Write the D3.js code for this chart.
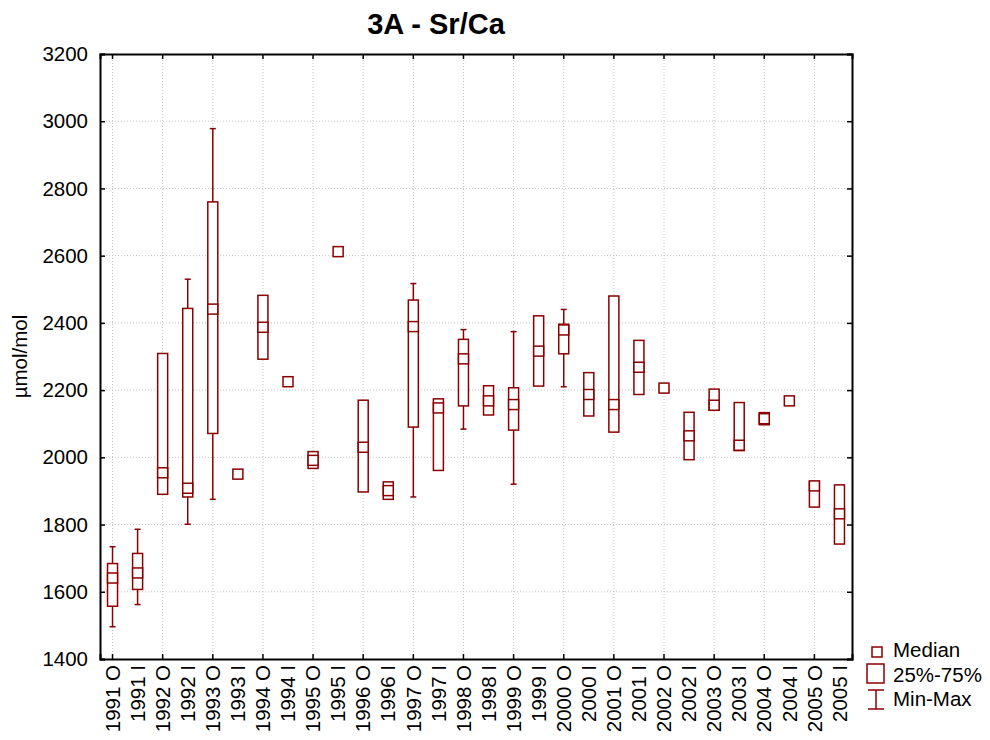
<!DOCTYPE html>
<html>
<head>
<meta charset="utf-8">
<script src="https://cdn.jsdelivr.net/npm/d3@7"></script>
<style>
  body { margin: 0; background: #fff; }
  text { font-family: "Liberation Sans", Arial, sans-serif; fill: #000; }
</style>
</head>
<body>
<svg id="chart" width="990" height="740"></svg>
<script>
// categories (season/year) and box statistics
const categories = [
  "1991 O", "1991 I", "1992 O", "1992 I", "1993 O", "1993 I", "1994 O", "1994 I",
  "1995 O", "1995 I", "1996 O", "1996 I", "1997 O", "1997 I", "1998 O", "1998 I",
  "1999 O", "1999 I", "2000 O", "2000 I", "2001 O", "2001 I", "2002 O", "2002 I",
  "2003 O", "2003 I", "2004 O", "2004 I", "2005 O", "2005 I"
];
const minVals = [1496, 1562, null, 1801, 1875, null, null, null, null, null, null, null, 1882, null, 2084, null,
  1920, null, 2210, null, null, null, null, null, null, null, null, null, null, null];
const q1Vals = [1557, 1607, 1890, 1882, 2071, 1950, 2292, 2225, 1967, 2612, 1897, 1875, 2090, 1961, 2153, 2126,
  2081, 2212, 2308, 2123, 2075, 2187, 2206, 1993, 2140, 2020, 2097, 2168, 1852, 1742];
const medianVals = [1641, 1656, 1954, 1908, 2441, 1950, 2387, 2225, 1991, 2612, 2030, 1901, 2389, 2147, 2293, 2168,
  2157, 2316, 2379, 2187, 2157, 2268, 2206, 2064, 2155, 2036, 2115, 2168, 1915, 1832];
const q3Vals = [1684, 1714, 2309, 2443, 2760, 1950, 2482, 2225, 2017, 2612, 2170, 1927, 2468, 2174, 2351, 2213,
  2207, 2421, 2396, 2252, 2480, 2348, 2206, 2134, 2203, 2163, 2133, 2168, 1928, 1918];
const maxVals = [1734, 1786, null, 2530, 2978, null, null, null, null, null, null, null, 2517, null, 2380, null,
  2374, null, 2440, null, null, null, null, null, null, null, null, null, null, null];
const yTicks = [1400, 1600, 1800, 2000, 2200, 2400, 2600, 2800, 3000, 3200];
const legendLabels = ["Median", "25%-75%", "Min-Max"];

const boxColor = "#8b0000";
const gridColor = "#c4c4c4";

const data = categories.map((c, i) => ({
  cat: c,
  min: minVals[i],
  q1: q1Vals[i],
  median: medianVals[i],
  q3: q3Vals[i],
  max: maxVals[i],
}));

const svg = d3.select("#chart");
const plotLeft = 100, plotRight = 852, plotTop = 54, plotBottom = 659;

const x = d3.scaleBand().domain(categories).range([plotLeft, plotRight]).paddingInner(0).paddingOuter(0);
const cx = (c) => x(c) + x.bandwidth() / 2;
const y = d3.scaleLinear().domain([1400, 3200]).range([plotBottom, plotTop]);

// major categories (O) carry grid lines and ticks
const majorCats = categories.filter((c, i) => i % 2 === 0);

// Grid
const grid = svg.append("g");
grid.selectAll("line.h")
  .data(yTicks.slice(1, -1))
  .join("line")
  .attr("x1", plotLeft).attr("x2", plotRight)
  .attr("y1", (d) => y(d)).attr("y2", (d) => y(d))
  .attr("stroke", gridColor).attr("stroke-dasharray", "1,2");
grid.selectAll("line.v")
  .data(majorCats)
  .join("line")
  .attr("x1", (d) => cx(d)).attr("x2", (d) => cx(d))
  .attr("y1", plotTop).attr("y2", plotBottom)
  .attr("stroke", gridColor).attr("stroke-dasharray", "1,2");

// Axes (ticks point inward)
const yAxisL = d3.axisLeft(y).tickValues(yTicks).tickSize(-5).tickPadding(12).tickFormat(d3.format("d"));
const yAxisR = d3.axisRight(y).tickValues(yTicks).tickSize(-5).tickFormat("");
const xAxisB = d3.axisBottom(x).tickSize(0).tickPadding(6);
const xAxisT = d3.axisTop(x).tickValues(majorCats).tickSize(-5).tickFormat("");
const xTicksB = d3.axisBottom(x).tickValues(majorCats).tickSize(-5).tickFormat("");

const gL = svg.append("g").attr("transform", `translate(${plotLeft},0)`).call(yAxisL);
const gR = svg.append("g").attr("transform", `translate(${plotRight},0)`).call(yAxisR);
const gT = svg.append("g").attr("transform", `translate(0,${plotTop})`).call(xAxisT);
const gBt = svg.append("g").attr("transform", `translate(0,${plotBottom})`).call(xTicksB);
const gB = svg.append("g").attr("transform", `translate(0,${plotBottom})`).call(xAxisB);

[gL, gR, gT, gBt, gB].forEach((g) => {
  g.select(".domain").attr("stroke", "#000").attr("stroke-width", 2);
  g.selectAll(".tick line").attr("stroke", "#000").attr("stroke-width", 1.5);
});
gL.selectAll(".tick text").attr("font-size", 20.5).attr("font-family", "Liberation Sans, Arial, sans-serif");
gB.select(".domain").remove();
gB.selectAll(".tick text")
  .attr("font-size", 20.5)
  .attr("font-family", "Liberation Sans, Arial, sans-serif")
  .attr("text-anchor", "end")
  .attr("dy", "0.35em")
  .attr("transform", "rotate(-90)")
  .attr("x", -6)
  .attr("y", 0);

// Boxes
const boxW = 10, capW = 6, medH = 10;
const boxes = svg.append("g");

boxes.selectAll("line.whisker")
  .data(data.filter((d) => d.min != null))
  .join("line")
  .attr("x1", (d) => cx(d.cat)).attr("x2", (d) => cx(d.cat))
  .attr("y1", (d) => y(d.max)).attr("y2", (d) => y(d.min))
  .attr("stroke", boxColor).attr("stroke-width", 1.5);

boxes.selectAll("line.capTop")
  .data(data.filter((d) => d.max != null))
  .join("line")
  .attr("x1", (d) => cx(d.cat) - capW / 2).attr("x2", (d) => cx(d.cat) + capW / 2)
  .attr("y1", (d) => y(d.max)).attr("y2", (d) => y(d.max))
  .attr("stroke", boxColor).attr("stroke-width", 1.5);

boxes.selectAll("line.capBot")
  .data(data.filter((d) => d.min != null))
  .join("line")
  .attr("x1", (d) => cx(d.cat) - capW / 2).attr("x2", (d) => cx(d.cat) + capW / 2)
  .attr("y1", (d) => y(d.min)).attr("y2", (d) => y(d.min))
  .attr("stroke", boxColor).attr("stroke-width", 1.5);

boxes.selectAll("rect.box")
  .data(data.filter((d) => d.q3 > d.q1))
  .join("rect")
  .attr("x", (d) => cx(d.cat) - boxW / 2)
  .attr("y", (d) => y(d.q3))
  .attr("width", boxW)
  .attr("height", (d) => y(d.q1) - y(d.q3))
  .attr("fill", "#fff")
  .attr("stroke", boxColor).attr("stroke-width", 1.5);

boxes.selectAll("rect.median")
  .data(data)
  .join("rect")
  .attr("x", (d) => cx(d.cat) - boxW / 2)
  .attr("y", (d) => y(d.median) - medH / 2)
  .attr("width", boxW)
  .attr("height", medH)
  .attr("fill", "#fff")
  .attr("stroke", boxColor).attr("stroke-width", 1.5);

// Title and y label
svg.append("text")
  .attr("x", 436).attr("y", 34)
  .attr("text-anchor", "middle")
  .attr("font-size", 29).attr("font-weight", "bold")
  .text("3A - Sr/Ca");

svg.append("text")
  .attr("transform", `translate(27,${(plotTop + plotBottom) / 2}) rotate(-90)`)
  .attr("text-anchor", "middle")
  .attr("font-size", 20.5)
  .text("µmol/mol");

// Legend
const lg = svg.append("g");
lg.append("rect").attr("x", 872).attr("y", 647).attr("width", 10).attr("height", 10)
  .attr("fill", "none").attr("stroke", boxColor).attr("stroke-width", 1.5);
lg.append("rect").attr("x", 867).attr("y", 664).attr("width", 17).attr("height", 19)
  .attr("fill", "none").attr("stroke", boxColor).attr("stroke-width", 1.5);
lg.append("line").attr("x1", 876).attr("x2", 876).attr("y1", 690).attr("y2", 709)
  .attr("stroke", boxColor).attr("stroke-width", 1.5);
lg.append("line").attr("x1", 868).attr("x2", 884).attr("y1", 690).attr("y2", 690)
  .attr("stroke", boxColor).attr("stroke-width", 1.5);
lg.append("line").attr("x1", 868).attr("x2", 884).attr("y1", 709).attr("y2", 709)
  .attr("stroke", boxColor).attr("stroke-width", 1.5);
lg.selectAll("text")
  .data(legendLabels)
  .join("text")
  .attr("x", 893)
  .attr("y", (d, i) => 657 + i * 24.5)
  .attr("font-size", 20.5)
  .text((d) => d);
</script>
</body>
</html>
